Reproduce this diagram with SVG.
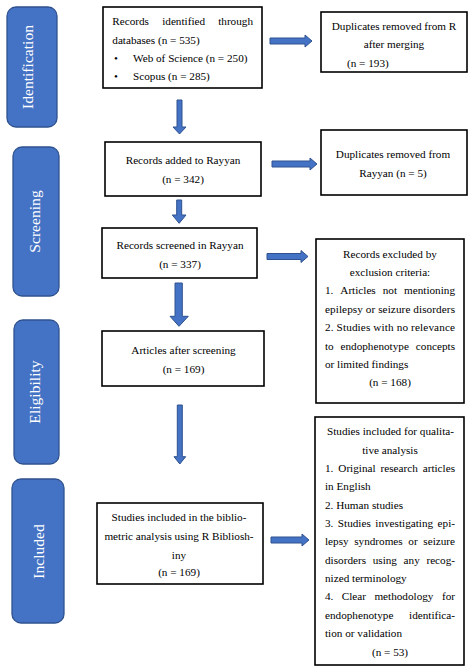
<svg xmlns="http://www.w3.org/2000/svg" width="474" height="671" viewBox="0 0 474 671">
<style>
.stage{fill:#4472C4;stroke:#2F528F;stroke-width:1.3}
.stxt{fill:#fff;font-family:"Liberation Serif",serif;font-size:15.6px;text-anchor:middle}
.box{fill:#fff;stroke:#000;stroke-width:1.6}
.t{font-family:"Liberation Serif",serif;font-size:11.2px;fill:#000}
.c{text-anchor:middle}
.e{text-anchor:end}
.arr{fill:#4472C4;stroke:#2F528F;stroke-width:1}
</style>
<rect width="474" height="671" fill="#fff"/>

<g id="stage-identification">
<rect class="stage" x="7" y="7" width="50" height="120" rx="9"/>
<text class="stxt" transform="translate(33,67) rotate(-90)">Identification</text>
</g>
<g id="stage-screening">
<rect class="stage" x="13" y="147" width="46" height="149" rx="9"/>
<text class="stxt" transform="translate(40,221.5) rotate(-90)">Screening</text>
</g>
<g id="stage-eligibility">
<rect class="stage" x="14" y="320" width="45" height="144" rx="9"/>
<text class="stxt" transform="translate(40,392) rotate(-90)">Eligibility</text>
</g>
<g id="stage-included">
<rect class="stage" x="12" y="479" width="52" height="144" rx="9"/>
<text class="stxt" transform="translate(44,551.5) rotate(-90)">Included</text>
</g>

<g id="box-identified">
<rect class="box" x="103" y="7" width="159" height="81"/>
<text class="t" x="112.3" y="25">Records</text>
<text class="t" x="162.2" y="25">identified</text>
<text class="t e" x="253" y="25">through</text>
<text class="t" x="112.3" y="43.5">databases (n =  535)</text>
<text class="t" x="114" y="62">•</text>
<text class="t" x="133" y="62">Web of Science (n = 250)</text>
<text class="t" x="114" y="80">•</text>
<text class="t" x="133" y="80">Scopus (n = 285)</text>
</g>

<g id="box-dup-r">
<rect class="box" x="321" y="12" width="146" height="60"/>
<text class="t c" x="394" y="29.5">Duplicates removed from R</text>
<text class="t c" x="394" y="48">after merging</text>
<text class="t" x="347" y="67">(n = 193)</text>
</g>

<g id="box-rayyan">
<rect class="box" x="105" y="142" width="156" height="54"/>
<text class="t c" x="183" y="163.5">Records added to Rayyan</text>
<text class="t c" x="183" y="182.5">(n = 342)</text>
</g>

<g id="box-dup-rayyan">
<rect class="box" x="321" y="130" width="146" height="65"/>
<text class="t c" x="393" y="157.5">Duplicates removed from</text>
<text class="t c" x="393" y="177">Rayyan (n = 5)</text>
</g>

<g id="box-screened">
<rect class="box" x="102" y="228" width="155" height="50"/>
<text class="t c" x="180" y="248.5">Records screened in Rayyan</text>
<text class="t c" x="180" y="267.5">(n = 337)</text>
</g>

<g id="box-excluded">
<rect class="box" x="316" y="239" width="148" height="164"/>
<text class="t c" x="390" y="257.5">Records excluded by</text>
<text class="t c" x="390" y="276">exclusion criteria:</text>
<text class="t" x="325" y="294">1.</text>
<text class="t" x="340.3" y="294">Articles</text>
<text class="t" x="382.7" y="294">not</text>
<text class="t e" x="455" y="294">mentioning</text>
<text class="t" x="325" y="312.5" textLength="130" lengthAdjust="spacing">epilepsy or seizure disorders</text>
<text class="t" x="325" y="331" textLength="130" lengthAdjust="spacing">2. Studies with no relevance</text>
<text class="t" x="325" y="349.5">to</text>
<text class="t" x="340.5" y="349.5">endophenotype</text>
<text class="t e" x="455" y="349.5">concepts</text>
<text class="t" x="325" y="368">or limited findings</text>
<text class="t c" x="390" y="386">(n = 168)</text>
</g>

<g id="box-articles">
<rect class="box" x="102" y="331" width="162" height="55"/>
<text class="t c" x="183.5" y="353.5">Articles after screening</text>
<text class="t c" x="183.5" y="372.5">(n = 169)</text>
</g>

<g id="box-qualitative">
<rect class="box" x="315" y="417" width="149" height="248"/>
<text class="t c" x="390.5" y="435">Studies included for qualita-</text>
<text class="t c" x="390" y="453.5">tive analysis</text>
<text class="t" x="325" y="472">1.</text>
<text class="t" x="338.3" y="472">Original</text>
<text class="t" x="380.5" y="472">research</text>
<text class="t e" x="455" y="472">articles</text>
<text class="t" x="325" y="490">in English</text>
<text class="t" x="325" y="508.5">2. Human studies</text>
<text class="t" x="325" y="527">3.</text>
<text class="t" x="337.8" y="527">Studies</text>
<text class="t" x="375.3" y="527">investigating</text>
<text class="t e" x="455" y="527">epi-</text>
<text class="t" x="325" y="545">lepsy</text>
<text class="t" x="354.2" y="545">syndromes</text>
<text class="t" x="408.3" y="545">or</text>
<text class="t e" x="455" y="545">seizure</text>
<text class="t" x="325" y="563.5">disorders</text>
<text class="t" x="372.7" y="563.5">using</text>
<text class="t" x="403.6" y="563.5">any</text>
<text class="t e" x="455" y="563.5">recog-</text>
<text class="t" x="325" y="582">nized terminology</text>
<text class="t" x="325" y="600">4.</text>
<text class="t" x="341.8" y="600">Clear</text>
<text class="t" x="374.4" y="600">methodology</text>
<text class="t e" x="455" y="600">for</text>
<text class="t" x="325" y="618.5">endophenotype</text>
<text class="t e" x="455" y="618.5">identifica-</text>
<text class="t" x="325" y="637">tion or validation</text>
<text class="t c" x="390" y="655.5">(n = 53)</text>
</g>

<g id="box-bibliometric">
<rect class="box" x="97" y="503" width="166" height="81"/>
<text class="t c" x="179" y="521">Studies included in the biblio-</text>
<text class="t c" x="179" y="540">metric analysis using R Bibliosh-</text>
<text class="t c" x="179" y="558.5">iny</text>
<text class="t c" x="179" y="576">(n = 169)</text>
</g>

<g id="connectors">
<polygon class="arr" points="270,38 305,38 305,35 312,41 305,47 305,44 270,44"/>
<polygon class="arr" points="272,161 310,161 310,158 317,164 310,170 310,167 272,167"/>
<polygon class="arr" points="267,253.5 301,253.5 301,250.5 308,256.5 301,262.5 301,259.5 267,259.5"/>
<polygon class="arr" points="271,537 302,537 302,534 309,540 302,546 302,543 271,543"/>
<polygon class="arr" points="177,100 182,100 182,127 186,127 179.5,134 173,127 177,127"/>
<polygon class="arr" points="176.7,200 181.7,200 181.7,215 186,215 179.2,223.3 172.3,215 176.7,215"/>
<polygon class="arr" points="175,283 182.3,283 182.3,316.3 188.3,316.3 179,326.3 170,316.3 175,316.3"/>
<polygon class="arr" points="177.3,405 182.3,405 182.3,456.7 185.7,456.7 179.8,464 174,456.7 177.3,456.7"/>
</g>
</svg>
